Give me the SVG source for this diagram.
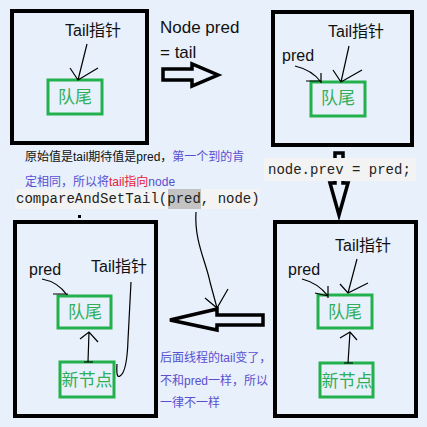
<svg xmlns="http://www.w3.org/2000/svg" width="427" height="427" viewBox="0 0 427 427">
<style>
.frame{fill:none;stroke:#000;stroke-width:4}
.gbox{fill:none;stroke:#22B14C;stroke-width:3}
.gtxt{font-family:"Noto Sans CJK SC","Liberation Sans",sans-serif;font-size:17px;fill:#2fae5a;text-anchor:middle}
.lbl{font-family:"Liberation Sans","Noto Sans CJK SC",sans-serif;font-size:16px;fill:#111}
.note{font-family:"Liberation Sans","Noto Sans CJK SC",sans-serif;font-size:12px}
.code{font-family:"Liberation Mono","Courier New",monospace;font-size:14px;fill:#222}
.thin{fill:none;stroke:#000;stroke-width:1.2}
.block{fill:none;stroke:#000;stroke-width:3.5;stroke-linejoin:miter}
</style>
<rect width="427" height="427" fill="#E7F0FB"/>

<g id="state1">
<rect class="frame" x="12" y="11" width="135" height="132"/>
<text class="lbl" x="65" y="36">Tail指针</text>
<g id="s1-tail">
<rect class="gbox" x="48" y="80" width="54" height="34"/>
<text class="gtxt" x="75" y="103">队尾</text>
</g>
</g>

<g id="state2">
<rect class="frame" x="273" y="12" width="139" height="133"/>
<text class="lbl" x="328" y="37">Tail指针</text>
<text class="lbl" x="282" y="61">pred</text>
<g id="s2-tail">
<rect class="gbox" x="311" y="82" width="54" height="34"/>
<text class="gtxt" x="338" y="104">队尾</text>
</g>
</g>

<g id="state3">
<rect class="frame" x="15" y="222" width="141" height="194"/>
<text class="lbl" x="29" y="275">pred</text>
<text class="lbl" x="91" y="272">Tail指针</text>
<g id="s3-tail">
<rect class="gbox" x="58" y="296" width="53" height="32"/>
<text class="gtxt" x="85" y="318">队尾</text>
</g>
<g id="s3-new">
<rect class="gbox" x="60" y="362" width="54" height="35"/>
<text class="gtxt" x="87" y="386">新节点</text>
</g>
</g>

<g id="state4">
<rect class="frame" x="275" y="222" width="141" height="194"/>
<text class="lbl" x="288" y="275">pred</text>
<text class="lbl" x="335" y="251">Tail指针</text>
<g id="s4-tail">
<rect class="gbox" x="318" y="295" width="54" height="33"/>
<text class="gtxt" x="345" y="318">队尾</text>
</g>
<g id="s4-new">
<rect class="gbox" x="320" y="363" width="53" height="34"/>
<text class="gtxt" x="347" y="387">新节点</text>
</g>
</g>

<g id="labels">
<text class="lbl" x="160" y="33" style="font-size:17px">Node pred</text>
<text class="lbl" x="160" y="58" style="font-size:17px">= tail</text>
<text class="note" x="25" y="161"><tspan fill="#111">原始值是tail期待值是pred，</tspan><tspan fill="#5a4fd0">第一个到的肯</tspan></text>
<text class="note" x="25" y="186"><tspan fill="#5a4fd0">定相同，所以将</tspan><tspan fill="#e8203a">tail指向</tspan><tspan fill="#5a4fd0">node</tspan></text>
<rect x="15" y="189" width="245" height="20" fill="#F3F3F3"/>
<rect x="168" y="189" width="33" height="20" fill="#C3C3C3"/>
<text class="code" x="16" y="203">compareAndSetTail(pred, node)</text>
<text class="note" fill="#5a4fd0" x="160" y="362">后面线程的tail变了，</text>
<text class="note" fill="#5a4fd0" x="160" y="385">不和pred一样，所以</text>
<text class="note" fill="#5a4fd0" x="160" y="407">一律不一样</text>
</g>

<g id="connectors">
<path class="block" d="M163,69 L192,69 L192,64 L218,75 L192,86 L192,80 L163,80 Z"/>
<path class="block" d="M335,153 L343,153 L343,183 L348,183 L339,215 L330,183 L335,183 Z"/>
<rect x="264" y="158" width="152" height="23" fill="#F3F3F3"/>
<text class="code" x="268" y="174">node.prev = pred;</text>
<path class="block" d="M263,315 L217,315 L217,309 L170,320 L217,330 L217,325 L263,325 Z"/>

<path class="thin" d="M87,44 L78,80 M70,68 L78,80 L98,68"/>
<path class="thin" d="M349,46 L341,82 M333,70 L341,82 L362,70"/>
<path class="thin" d="M295,66 Q312,70 321,82 M306,81 L321,81 M321,73 L321,83"/>

<path class="thin" d="M42,279 Q58,282 67,295 M53,294 L68,294"/>
<path class="thin" d="M131,282 L128,340 Q127,372 120,376 Q116,379 117,364"/>
<path class="thin" d="M88,362 L89,332 M80,339 L89,332 L98,342 M84,362 L93,362"/>

<path class="thin" d="M302,279 Q318,283 328,296 M315,293 L328,296 M328,286 L328,298"/>
<path class="thin" d="M357,259 L348,293 M340,284 L348,293 L368,283"/>
<path class="thin" d="M348,363 L350,332 M340,338 L350,332 L357,340 M344,363 L353,363"/>

<path class="thin" d="M196,212 C194,240 206,262 210,282 L217,308 M205,298 L217,308 L228,289"/>
<rect x="78" y="215" width="3" height="3" fill="#000"/>
</g>
</svg>
